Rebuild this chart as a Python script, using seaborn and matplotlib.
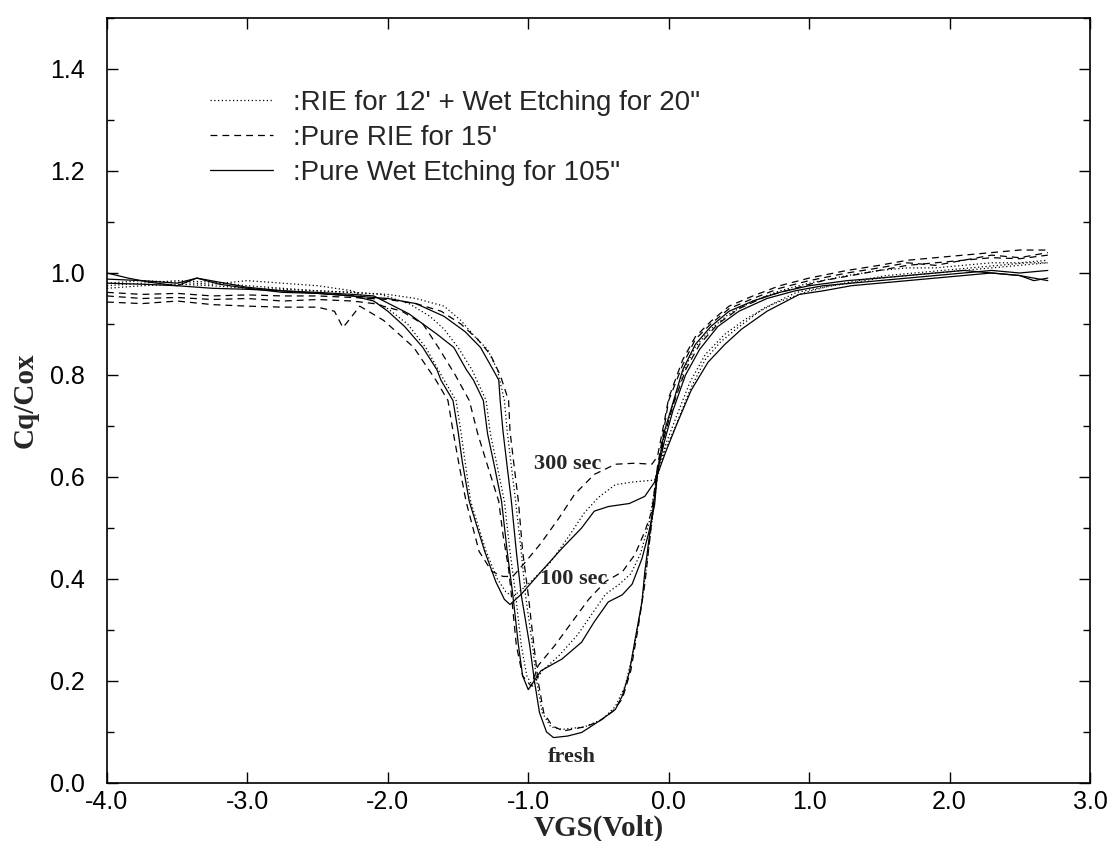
import matplotlib
matplotlib.use("Agg")
import matplotlib.pyplot as plt
from matplotlib.ticker import MultipleLocator, FormatStrFormatter
import seaborn as sns

# ---- data (VGS in volts, Cq/Cox) ----
# dotted: RIE for 12' + Wet Etching for 20"
dot_fresh_x = [-4.0, -3.75, -3.5, -3.25, -3.0, -2.75, -2.5, -2.25, -2.0, -1.8, -1.6, -1.48, -1.38, -1.29, -1.22,
               -1.17, -1.15, -1.12, -1.09, -1.05, -1.02, -0.97, -0.94, -0.9, -0.84, -0.76, -0.6, -0.47, -0.38,
               -0.31, -0.25, -0.2, -0.16, -0.12, -0.08, -0.03, 0.05, 0.15, 0.26, 0.37, 0.48, 0.67, 0.91, 1.1,
               1.29, 1.5, 1.7, 1.9, 2.1, 2.3, 2.5, 2.7]
dot_fresh_y = [0.975, 0.98, 0.985, 0.982, 0.975, 0.97, 0.965, 0.962, 0.958, 0.95, 0.935, 0.907, 0.875, 0.85, 0.81,
               0.75, 0.69, 0.62, 0.552, 0.454, 0.369, 0.27, 0.2, 0.138, 0.11, 0.105, 0.11, 0.125, 0.15,
               0.19, 0.26, 0.34, 0.42, 0.51, 0.6, 0.65, 0.7, 0.77, 0.83, 0.865, 0.89, 0.93, 0.962, 0.972,
               0.98, 0.99, 0.995, 1.0, 1.005, 1.01, 1.015, 1.02]
dot_100_x = [-4.0, -3.75, -3.5, -3.25, -3.0, -2.75, -2.5, -2.25, -2.05, -1.85, -1.7, -1.6, -1.5, -1.4, -1.3, -1.27,
             -1.22, -1.17, -1.13, -1.09, -1.05, -1.01, -0.97, -0.9, -0.78, -0.65, -0.55, -0.45, -0.35, -0.27,
             -0.2, -0.14, -0.08, -0.02, 0.05, 0.15, 0.26, 0.4, 0.55, 0.75, 0.95, 1.15, 1.35, 1.55, 1.75, 1.95,
             2.15, 2.35, 2.55, 2.7]
dot_100_y = [0.97, 0.975, 0.978, 0.975, 0.97, 0.968, 0.965, 0.962, 0.958, 0.94, 0.915, 0.89, 0.854, 0.81, 0.75, 0.685,
             0.62, 0.552, 0.454, 0.369, 0.27, 0.21, 0.19, 0.22, 0.25, 0.29, 0.33, 0.37, 0.39, 0.41,
             0.45, 0.51, 0.61, 0.665, 0.715, 0.785, 0.84, 0.88, 0.91, 0.94, 0.96, 0.975, 0.985, 0.995, 1.0, 1.005,
             1.01, 1.015, 1.02, 1.02]
dot_300_x = [-4.0, -3.75, -3.5, -3.25, -3.0, -2.75, -2.5, -2.25, -2.0, -1.86, -1.73, -1.6, -1.514, -1.48, -1.45,
             -1.41, -1.3, -1.22, -1.16, -1.11, -1.0, -0.85, -0.72, -0.6, -0.5, -0.38, -0.26, -0.1, -0.08, -0.03,
             0.03, 0.1, 0.19, 0.3, 0.43, 0.6, 0.79, 1.0, 1.27, 1.5, 1.7, 1.9, 2.1, 2.3, 2.5, 2.7]
dot_300_y = [0.98, 0.985, 0.982, 0.978, 0.985, 0.98, 0.975, 0.965, 0.93, 0.9, 0.854, 0.79, 0.75, 0.69, 0.63,
             0.552, 0.454, 0.4, 0.375, 0.365, 0.39, 0.43, 0.48, 0.53, 0.56, 0.585, 0.59, 0.594, 0.612, 0.685,
             0.74, 0.805, 0.855, 0.89, 0.92, 0.945, 0.965, 0.98, 0.995, 1.005, 1.01, 1.01, 1.015, 1.02, 1.02, 1.025]

# dashed: Pure RIE for 15'
dash_fresh_x = [-4.0, -3.75, -3.5, -3.25, -3.0, -2.75, -2.5, -2.25, -2.0, -1.8, -1.62, -1.48, -1.36, -1.27, -1.2,
                -1.14, -1.13, -1.1, -1.07, -1.04, -1.0, -0.96, -0.93, -0.89, -0.83, -0.75, -0.6, -0.5, -0.4,
                -0.33, -0.27, -0.22, -0.17, -0.13, -0.08, -0.03, 0.03, 0.12, 0.22, 0.35, 0.5, 0.7, 0.9, 1.1,
                1.3, 1.5, 1.7, 1.9, 2.1, 2.3, 2.5, 2.7]
dash_fresh_y = [0.962, 0.958, 0.96, 0.955, 0.957, 0.955, 0.955, 0.952, 0.948, 0.94, 0.925, 0.9, 0.87, 0.84, 0.8,
                0.75, 0.69, 0.62, 0.552, 0.454, 0.369, 0.27, 0.2, 0.138, 0.112, 0.102, 0.11, 0.12, 0.14,
                0.165, 0.22, 0.3, 0.39, 0.49, 0.61, 0.68, 0.74, 0.81, 0.86, 0.9, 0.93, 0.955, 0.97, 0.985,
                0.995, 1.005, 1.015, 1.02, 1.025, 1.03, 1.028, 1.035]
dash_100_x = [-4.0, -3.75, -3.5, -3.25, -3.0, -2.75, -2.5, -2.25, -2.1, -1.9, -1.75, -1.64, -1.52, -1.42, -1.36,
              -1.285, -1.21, -1.18, -1.14, -1.12, -1.085, -1.04, -0.98, -0.93, -0.81, -0.69, -0.57, -0.45, -0.33,
              -0.24, -0.17, -0.12, -0.08, -0.03, 0.0, 0.1, 0.19, 0.3, 0.43, 0.6, 0.79, 1.0, 1.27, 1.5, 1.7,
              1.9, 2.1, 2.3, 2.5, 2.7]
dash_100_y = [0.955, 0.95, 0.952, 0.948, 0.95, 0.945, 0.948, 0.945, 0.94, 0.925, 0.9, 0.854, 0.8, 0.75, 0.685,
              0.618, 0.552, 0.487, 0.42, 0.369, 0.27, 0.21, 0.19, 0.23, 0.27, 0.315, 0.36, 0.395, 0.414,
              0.448, 0.493, 0.533, 0.62, 0.7, 0.75, 0.82, 0.87, 0.9, 0.93, 0.95, 0.97, 0.985, 1.0, 1.01, 1.02,
              1.015, 1.025, 1.035, 1.03, 1.04]
dash_300_x = [-4.0, -3.75, -3.5, -3.25, -3.0, -2.75, -2.5, -2.38, -2.32, -2.27, -2.2, -2.03, -1.92, -1.815, -1.72,
              -1.658, -1.572, -1.536, -1.49, -1.443, -1.35, -1.26, -1.18, -1.11, -1.03, -0.91, -0.78, -0.67,
              -0.53, -0.38, -0.24, -0.12, -0.08, -0.03, 0.0, 0.1, 0.19, 0.3, 0.43, 0.6, 0.79, 1.0, 1.27, 1.5,
              1.7, 1.9, 2.1, 2.3, 2.5, 2.7]
dash_300_y = [0.943, 0.94, 0.945, 0.938, 0.935, 0.933, 0.933, 0.925, 0.893, 0.91, 0.935, 0.907, 0.88, 0.854, 0.815,
              0.79, 0.75, 0.69, 0.62, 0.552, 0.454, 0.415, 0.405, 0.405, 0.43, 0.47, 0.52, 0.566,
              0.605, 0.625, 0.627, 0.625, 0.64, 0.71, 0.755, 0.83, 0.875, 0.905, 0.935, 0.955, 0.975, 0.99, 1.005, 1.015,
              1.025, 1.03, 1.035, 1.04, 1.045, 1.045]

# solid: Pure Wet Etching for 105"
sol_fresh_x = [-4.0, -3.75, -3.5, -3.36, -3.2, -3.0, -2.75, -2.5, -2.25, -2.0, -1.8, -1.6, -1.45, -1.34, -1.25,
               -1.21, -1.2, -1.18, -1.15, -1.12, -1.085, -1.05, -0.99, -0.956, -0.92, -0.87, -0.82, -0.72, -0.62,
               -0.48, -0.38, -0.33, -0.28, -0.24, -0.19, -0.17, -0.13, -0.08, -0.02, 0.06, 0.16, 0.28, 0.4, 0.52,
               0.7, 0.93, 1.1, 1.3, 1.5, 1.7, 1.9, 2.1, 2.3, 2.5, 2.6, 2.7]
sol_fresh_y = [0.988, 0.985, 0.98, 0.99, 0.982, 0.972, 0.965, 0.96, 0.955, 0.95, 0.94, 0.915, 0.885, 0.854, 0.81,
               0.79, 0.75, 0.69, 0.62, 0.552, 0.454, 0.369, 0.27, 0.2, 0.138, 0.1, 0.089, 0.092, 0.099,
               0.124, 0.144, 0.171, 0.217, 0.28, 0.355, 0.414, 0.5, 0.605, 0.65, 0.705, 0.77, 0.825, 0.86, 0.89,
               0.925, 0.958, 0.965, 0.975, 0.98, 0.985, 0.99, 0.995, 1.0, 0.995, 0.985, 0.99]
sol_100_x = [-4.0, -3.75, -3.5, -3.25, -3.0, -2.75, -2.5, -2.25, -2.1, -1.85, -1.65, -1.53, -1.44, -1.39, -1.32,
             -1.29, -1.24, -1.19, -1.15, -1.11, -1.07, -1.04, -1.0, -0.91, -0.76, -0.62, -0.53, -0.43, -0.33,
             -0.26, -0.19, -0.14, -0.1, -0.08, -0.03, 0.03, 0.12, 0.22, 0.35, 0.5, 0.7, 0.9, 1.1, 1.3, 1.5, 1.7,
             1.9, 2.1, 2.3, 2.5, 2.7]
sol_100_y = [0.98, 0.978, 0.975, 0.97, 0.968, 0.965, 0.962, 0.958, 0.955, 0.92, 0.88, 0.854, 0.81, 0.79, 0.75,
             0.685, 0.62, 0.552, 0.454, 0.369, 0.27, 0.21, 0.183, 0.22, 0.243, 0.276, 0.316, 0.355, 0.369,
             0.39, 0.44, 0.493, 0.546, 0.61, 0.67, 0.73, 0.8, 0.85, 0.895, 0.925, 0.95, 0.965, 0.975, 0.98, 0.985, 0.99,
             0.995, 1.0, 1.005, 1.0, 1.005]
sol_300_x = [-4.0, -3.85, -3.7, -3.5, -3.36, -3.2, -3.0, -2.75, -2.5, -2.25, -2.1, -2.0, -1.88, -1.751, -1.65,
             -1.622, -1.536, -1.5, -1.47, -1.42, -1.31, -1.23, -1.17, -1.13, -1.05, -0.91, -0.76, -0.62, -0.53,
             -0.43, -0.28, -0.17, -0.1, -0.08, -0.03, 0.03, 0.1, 0.19, 0.3, 0.43, 0.6, 0.79, 1.0, 1.27, 1.5, 1.7,
             1.9, 2.1, 2.3, 2.5, 2.6, 2.7]
sol_300_y = [1.0, 0.99, 0.982, 0.975, 0.99, 0.978, 0.97, 0.962, 0.96, 0.955, 0.945, 0.925, 0.895, 0.854, 0.81,
             0.79, 0.75, 0.69, 0.63, 0.552, 0.454, 0.394, 0.36, 0.35, 0.37, 0.414, 0.46, 0.5, 0.533,
             0.542, 0.548, 0.562, 0.59, 0.612, 0.69, 0.745, 0.81, 0.86, 0.895, 0.925, 0.945, 0.962, 0.975, 0.985, 0.99, 0.995,
             1.0, 1.005, 1.0, 0.995, 0.99, 0.985]

legend_labels = [":RIE for 12' + Wet Etching for 20\"",
                 ":Pure RIE for 15'",
                 ":Pure Wet Etching for 105\""]
annotations = [("300 sec", -0.72, 0.625), ("100 sec", -0.68, 0.40), ("fresh", -0.69, 0.05)]

# ---- style ----
sns.set_style("ticks")
plt.rcParams['font.family'] = ['Liberation Sans', 'DejaVu Sans']
plt.rcParams['axes.unicode_minus'] = False

DOT = (0, (1, 2))
DASH = (0, (5.5, 4))
SOLID = '-'

curves = [
    (dot_fresh_x, dot_fresh_y, DOT, legend_labels[0]),
    (dot_100_x, dot_100_y, DOT, None),
    (dot_300_x, dot_300_y, DOT, None),
    (dash_fresh_x, dash_fresh_y, DASH, legend_labels[1]),
    (dash_100_x, dash_100_y, DASH, None),
    (dash_300_x, dash_300_y, DASH, None),
    (sol_fresh_x, sol_fresh_y, SOLID, legend_labels[2]),
    (sol_100_x, sol_100_y, SOLID, None),
    (sol_300_x, sol_300_y, SOLID, None),
]

fig = plt.figure(figsize=(11.18, 8.41), dpi=100)
ax = fig.add_axes([0.0957, 0.069, 0.8792, 0.9096])

for xs, ys, ls, lab in curves:
    sns.lineplot(x=xs, y=ys, ax=ax, color='black', linestyle=ls, linewidth=0.9,
                 sort=False, estimator=None, label=lab)

for txt, tx, ty in annotations:
    ax.text(tx, ty, txt, ha='center', va='center', fontsize=16, fontweight='bold',
            family='Liberation Serif')

ax.set_xlim(-4.0, 3.0)
ax.set_ylim(0.0, 1.5)
ax.xaxis.set_major_locator(MultipleLocator(1.0))
ax.yaxis.set_minor_locator(MultipleLocator(0.1))
ax.set_yticks([0.0, 0.2, 0.4, 0.6, 0.8, 1.0, 1.2, 1.4])
ax.xaxis.set_major_formatter(FormatStrFormatter('%.1f'))
ax.yaxis.set_major_formatter(FormatStrFormatter('%.1f'))

ax.tick_params(axis='both', which='both', direction='in', top=True, right=True, colors='black')
ax.tick_params(axis='both', which='major', length=8, width=1, labelsize=18)
ax.tick_params(axis='both', which='minor', length=5, width=1)
ax.tick_params(axis='x', which='major', pad=5)
ax.tick_params(axis='y', which='major', pad=16)
for sp in ax.spines.values():
    sp.set_visible(True)
    sp.set_color('black')
    sp.set_linewidth(1.2)

ax.set_xlabel('VGS(Volt)', fontsize=21, fontweight='bold', family='Liberation Serif')
ax.set_ylabel('Cq/Cox', fontsize=21, fontweight='bold', family='Liberation Serif')
ax.xaxis.set_label_coords(0.5, -0.041)
ax.yaxis.set_label_coords(-0.07, 0.5)

ax.legend(loc='upper left', bbox_to_anchor=(0.105, 0.906), frameon=False, fontsize=20,
          handlelength=2.27, handletextpad=0.72, labelspacing=0.32, borderpad=0, borderaxespad=0)

fig.savefig('out.png', dpi=100)
